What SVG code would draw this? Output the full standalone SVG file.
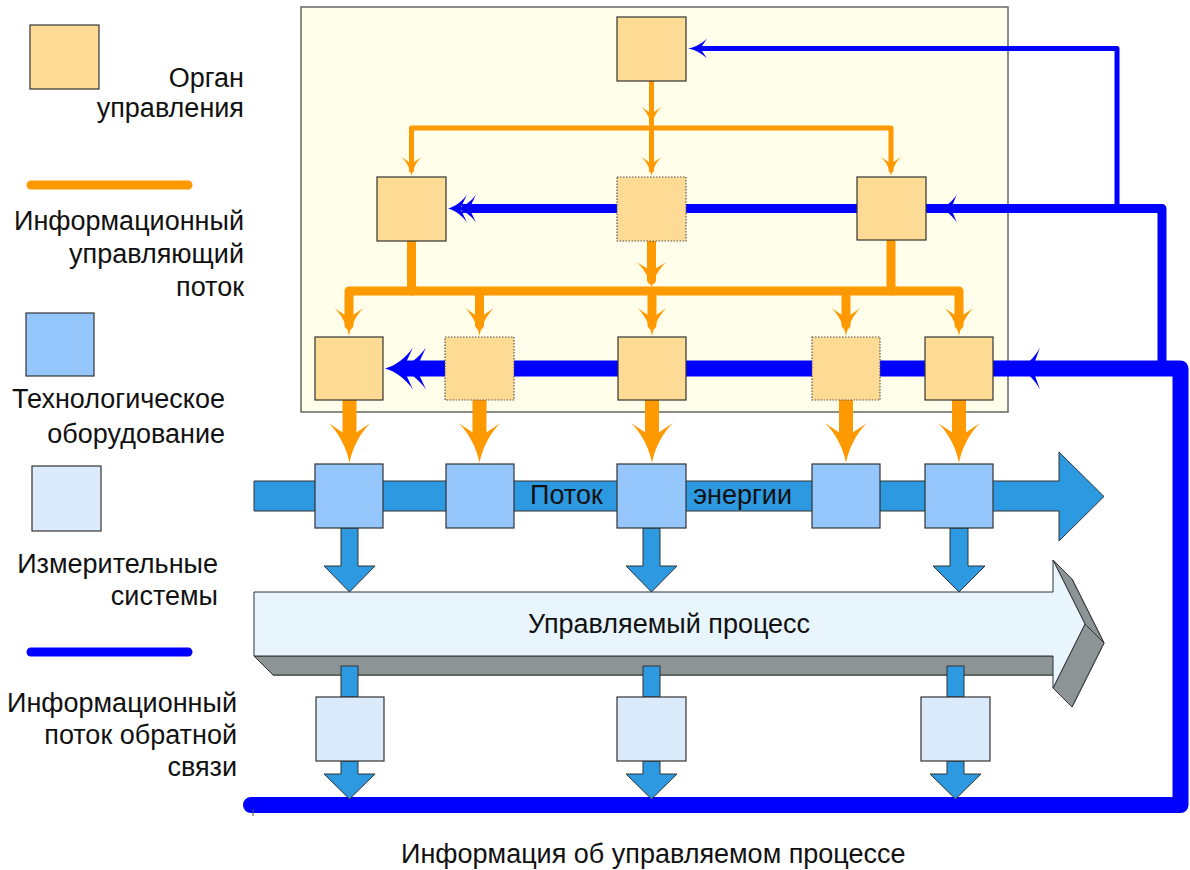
<svg xmlns="http://www.w3.org/2000/svg" xmlns:xlink="http://www.w3.org/1999/xlink" width="1190" height="870" viewBox="0 0 1190 870">
  <style>
    text { font-family: "Liberation Sans", Arial, sans-serif; font-size: 27px; fill: #111; }
    .lbl { text-anchor: end; }
    .org { fill: #fedb95; stroke: #333; stroke-width: 1.2; }
    .org.dot { stroke: #555; stroke-dasharray: 1.5 1.5; }
    .tech { fill: #94c6fc; stroke: #333; stroke-width: 1.2; }
    .meas { fill: #dcebfb; stroke: #333; stroke-width: 1.2; }
    .flow { fill: #2c99e1; stroke: #333; stroke-width: 1; }
    .or { fill: none; stroke: #ff9900; stroke-linejoin: round; stroke-linecap: round; }
    .bl { fill: none; stroke: #0000ff; stroke-linejoin: round; }
    .ho { fill: #ff9900; }
    .hb { fill: #0000ff; }
  </style>
  <defs>
    <!-- barbed arrowhead, tip at origin, pointing +x, unit length and width -->
    <path id="head" d="M0,0 C-0.35,-0.06 -0.75,-0.25 -1,-0.5 L-0.65,0 L-1,0.5 C-0.75,0.25 -0.35,0.06 0,0 Z"/>
  </defs>

  <!-- control system area -->
  <rect id="control-area" x="301" y="7" width="707" height="405" fill="#fffeeb" stroke="#666" stroke-width="1.5"/>

  <!-- energy flow band -->
  <g id="energy-flow">
    <path class="flow" d="M254,481 H1059 V452 L1104,496.5 L1059,541 V511 H254 Z"/>
    <text x="530" y="504">Поток</text>
    <text x="792" y="504" text-anchor="end">энергии</text>
  </g>

  <g id="connectors">
    <!-- control flow, orange -->
    <path class="or" stroke-width="5" d="M651.5,81 V124"/>
    <path class="or" stroke-width="5" d="M411.5,170 V128 H891 V170 M651.5,128 V170"/>
    <use xlink:href="#head" class="ho" transform="translate(651.5,126) rotate(90) scale(19,20)"/>
    <use xlink:href="#head" class="ho" transform="translate(411.5,176) rotate(90) scale(19,20)"/>
    <use xlink:href="#head" class="ho" transform="translate(651.5,176) rotate(90) scale(19,20)"/>
    <use xlink:href="#head" class="ho" transform="translate(891,176) rotate(90) scale(19,20)"/>

    <path class="or" stroke-width="9" d="M411.5,241 V291 M651.5,241 V280 M891,241 V291"/>
    <use xlink:href="#head" class="ho" transform="translate(651.5,288) rotate(90) scale(26,30)"/>
    <path class="or" stroke-width="9" d="M349,325 V291 H959 V325 M479.5,291 V325 M652,291 V325 M846,291 V325"/>
    <use xlink:href="#head" class="ho" transform="translate(349,336) rotate(90) scale(28,29)"/>
    <use xlink:href="#head" class="ho" transform="translate(479.5,336) rotate(90) scale(28,29)"/>
    <use xlink:href="#head" class="ho" transform="translate(652,336) rotate(90) scale(28,29)"/>
    <use xlink:href="#head" class="ho" transform="translate(846,336) rotate(90) scale(28,29)"/>
    <use xlink:href="#head" class="ho" transform="translate(959,336) rotate(90) scale(28,29)"/>

    <path class="or" stroke-width="14" stroke-linecap="butt" d="M349.5,400 V440 M479.5,400 V440 M652,400 V440 M846,400 V440 M959,400 V440"/>
    <use xlink:href="#head" class="ho" transform="translate(349.5,463) rotate(90) scale(40,42)"/>
    <use xlink:href="#head" class="ho" transform="translate(479.5,463) rotate(90) scale(40,42)"/>
    <use xlink:href="#head" class="ho" transform="translate(652,463) rotate(90) scale(40,42)"/>
    <use xlink:href="#head" class="ho" transform="translate(846,463) rotate(90) scale(40,42)"/>
    <use xlink:href="#head" class="ho" transform="translate(959,463) rotate(90) scale(40,42)"/>

    <!-- feedback flow, blue -->
    <path class="bl" stroke-width="5" d="M1117,208 V48.5 H700"/>
    <use xlink:href="#head" class="hb" transform="translate(688,48.5) rotate(180) scale(19,20)"/>

    <path class="bl" stroke-width="9" d="M1162,368 V208.5 H462"/>
    <use xlink:href="#head" class="hb" transform="translate(940,208.5) rotate(180) scale(17,29)"/>
    <use xlink:href="#head" class="hb" transform="translate(448,208.5) rotate(180) scale(19,28)"/>
    <use xlink:href="#head" class="hb" transform="translate(457,208.5) rotate(180) scale(19,28)"/>

    <path class="bl" stroke-width="16" stroke-linecap="round" d="M251,805 H1180.5 V368.5 H405"/>
    <use xlink:href="#head" class="hb" transform="translate(1018,368.5) rotate(180) scale(22,42)"/>
    <use xlink:href="#head" class="hb" transform="translate(385,368.5) rotate(180) scale(28,42)"/>
    <use xlink:href="#head" class="hb" transform="translate(398,368.5) rotate(180) scale(28,42)"/>
    <path d="M253,809 V816" stroke="#555" stroke-width="1"/>

    <!-- energy to process -->
    <path class="flow" d="M341,528 H358 V566 H375 L349.5,592 L324,566 H341 Z"/>
    <path class="flow" d="M643,528 H660 V566 H677 L651.5,592 L626,566 H643 Z"/>
    <path class="flow" d="M950,528 H968 V566 H985 L959,592 L933,566 H950 Z"/>
  </g>

  <!-- controlled process, extruded arrow -->
  <g id="process" stroke="#333" stroke-width="1" stroke-linejoin="round">
    <path fill="#8c9496" d="M273,611 H1072 V579 L1104,643 L1072,707 V675 H273 Z"/>
    <path fill="#8c9496" d="M254,656 H1053 L1072,675 H273 Z"/>
    <path fill="#8c9496" d="M1053,560 L1085,624 L1104,643 L1072,579 Z"/>
    <path fill="#8c9496" d="M1085,624 L1053,688 L1072,707 L1104,643 Z"/>
    <path fill="#e8f5fc" d="M254,592 H1053 V560 L1085,624 L1053,688 V656 H254 Z"/>
    <text x="528" y="633" stroke="none">Управляемый процесс</text>
  </g>

  <g id="measure-links">
    <rect class="flow" x="341" y="666" width="17" height="31"/>
    <rect class="flow" x="643" y="666" width="17" height="31"/>
    <rect class="flow" x="947" y="666" width="17" height="31"/>
    <path class="flow" d="M341,761 H358 V774 H375 L349.5,799 L324,774 H341 Z"/>
    <path class="flow" d="M643,761 H660 V774 H677 L651.5,799 L626,774 H643 Z"/>
    <path class="flow" d="M947,761 H964 V774 H981 L955.5,799 L930,774 H947 Z"/>
  </g>

  <!-- control bodies -->
  <g id="org-top"><rect class="org" x="617" y="17" width="69" height="64"/></g>
  <g id="org-2a"><rect class="org" x="377" y="177" width="69" height="64"/></g>
  <g id="org-2b"><rect class="org dot" x="617" y="177" width="69" height="64"/></g>
  <g id="org-2c"><rect class="org" x="857" y="177" width="69" height="63"/></g>
  <g id="org-3a"><rect class="org" x="315" y="337" width="68" height="63"/></g>
  <g id="org-3b"><rect class="org dot" x="445" y="337" width="69" height="63"/></g>
  <g id="org-3c"><rect class="org" x="618" y="337" width="68" height="63"/></g>
  <g id="org-3d"><rect class="org dot" x="812" y="337" width="68" height="63"/></g>
  <g id="org-3e"><rect class="org" x="925" y="337" width="68" height="63"/></g>

  <!-- equipment -->
  <g id="tech-1"><rect class="tech" x="315" y="464" width="68" height="64"/></g>
  <g id="tech-2"><rect class="tech" x="446" y="464" width="68" height="64"/></g>
  <g id="tech-3"><rect class="tech" x="617" y="464" width="69" height="64"/></g>
  <g id="tech-4"><rect class="tech" x="812" y="464" width="68" height="64"/></g>
  <g id="tech-5"><rect class="tech" x="925" y="464" width="68" height="64"/></g>

  <!-- measuring systems -->
  <g id="meas-1"><rect class="meas" x="316" y="697" width="68" height="64"/></g>
  <g id="meas-2"><rect class="meas" x="617" y="697" width="69" height="64"/></g>
  <g id="meas-3"><rect class="meas" x="921" y="697" width="69" height="64"/></g>

  <!-- legend -->
  <g id="legend">
    <rect class="org" x="30" y="25" width="69" height="64"/>
    <text class="lbl" x="244" y="87">Орган</text>
    <text class="lbl" x="244" y="117">управления</text>
    <line x1="31" y1="185" x2="188" y2="185" stroke="#ff9900" stroke-width="9" stroke-linecap="round"/>
    <text class="lbl" x="244" y="230">Информационный</text>
    <text class="lbl" x="244" y="263">управляющий</text>
    <text class="lbl" x="244" y="296">поток</text>
    <rect class="tech" x="26" y="313" width="68" height="63"/>
    <text class="lbl" x="225" y="408">Технологическое</text>
    <text class="lbl" x="225" y="443">оборудование</text>
    <rect class="meas" x="32" y="466" width="69" height="65"/>
    <text class="lbl" x="218" y="573">Измерительные</text>
    <text class="lbl" x="218" y="605">системы</text>
    <line x1="31" y1="652" x2="188" y2="652" stroke="#0000ff" stroke-width="9" stroke-linecap="round"/>
    <text class="lbl" x="237" y="712">Информационный</text>
    <text class="lbl" x="237" y="744">поток обратной</text>
    <text class="lbl" x="237" y="776">связи</text>
  </g>

  <text id="caption" x="401" y="863">Информация об управляемом процессе</text>
</svg>
